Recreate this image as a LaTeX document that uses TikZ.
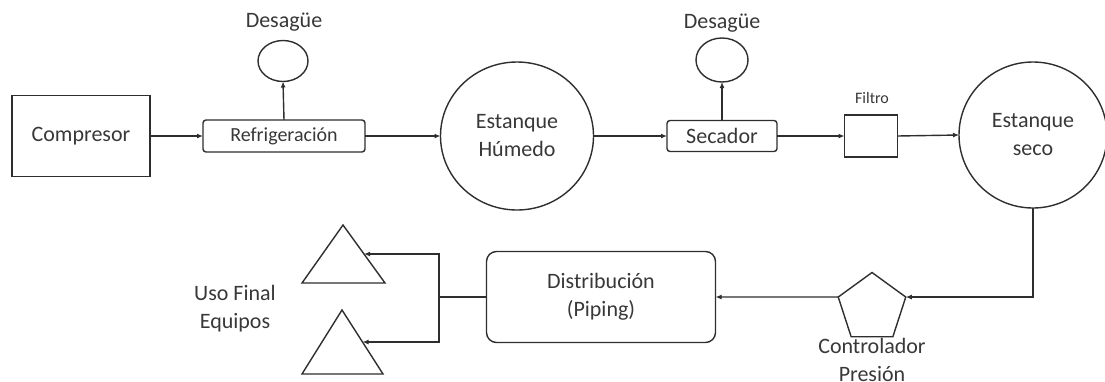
\documentclass[tikz,border=0pt]{standalone}
\usepackage{fontspec}
\setmainfont{Carlito}
\usetikzlibrary{shapes.geometric,arrows.meta}
\begin{document}
\begin{tikzpicture}[x=1pt,y=-1pt,
  every node/.style={inner sep=0pt,outer sep=0pt,text=black!78},
  ln/.style={draw=black!82,line width=1.4pt},
  arr/.style={ln,-{Latex[length=6pt,width=5pt]}},
  big/.style={font=\fontsize{22}{28}\selectfont,align=center},
  boxr/.style={ln,rectangle},
  rbox/.style={ln,rectangle,rounded corners=3pt},
  tank/.style={ln,ellipse},
]
\useasboundingbox (0,0) rectangle (1105,381);
% top row
\node[boxr,big,minimum width=138pt,minimum height=81pt] (comp) at (81,136) {Compresor};
\node[rbox,font=\fontsize{20}{24}\selectfont,minimum width=162pt,minimum height=32pt] (refr) at (284,136) {Refrigeración};
\node[tank,minimum width=50pt,minimum height=41pt] (des1) at (283,61) {};
\node[big] (ldes1) at (284,22) {Desagüe};
\node[tank,big,minimum width=153pt,minimum height=148pt] (hum) at (517,136) {Estanque\\Húmedo};
\node[rbox,big,minimum width=110pt,minimum height=31pt] (sec) at (722,136) {Secador};
\node[tank,minimum width=52pt,minimum height=44pt] (des2) at (722,60) {};
\node[big] (ldes2) at (722,23) {Desagüe};
\node[boxr,minimum width=53pt,minimum height=42pt] (filt) at (871,136) {};
\node[font=\fontsize{16}{20}\selectfont] (lfilt) at (872,98) {Filtro};
\node[tank,big,minimum width=148pt,minimum height=146pt] (seco) at (1033,135) {Estanque\\seco};
% bottom row
\node[ln,regular polygon,regular polygon sides=5,minimum size=71pt] (pent) at (872,308) {};
\node[big] (lpent) at (872,360) {Controlador\\Presión};
\node[ln,rectangle,rounded corners=10pt,big,minimum width=229pt,minimum height=91pt] (dist) at (601,297) {Distribución\\(Piping)};
\draw[ln,line join=miter] (343,225) coordinate (t1a) -- (385,283) -- (302,283) -- cycle;
\draw[ln,line join=miter] (342,310) coordinate (t2a) -- (383,374) -- (302,374) -- cycle;
\coordinate (t1e) at (364,254);
\coordinate (t2e) at (362.5,342);
\coordinate (jn) at (439,297);
\node[big] (luso) at (235,309) {Uso Final\\Equipos};
% connectors
\draw[arr] (comp.east) -- (refr.west);
\draw[arr] (refr.north) -- (des1.south);
\draw[arr] (refr.east) -- (hum.west);
\draw[arr] (hum.east) -- (sec.west);
\draw[arr] (sec.north) -- (des2.south);
\draw[arr] (sec.east) -- (filt.west);
\draw[arr] (filt.east) -- (seco.west);
\draw[arr] (seco.south) |- (pent.corner 5);
\draw[arr] (pent.corner 2) -- (dist.east);
\draw[ln] (dist.west) -- (jn);
\draw[arr] (jn) |- (t1e);
\draw[arr] (jn) |- (t2e);
\end{tikzpicture}
\end{document}
